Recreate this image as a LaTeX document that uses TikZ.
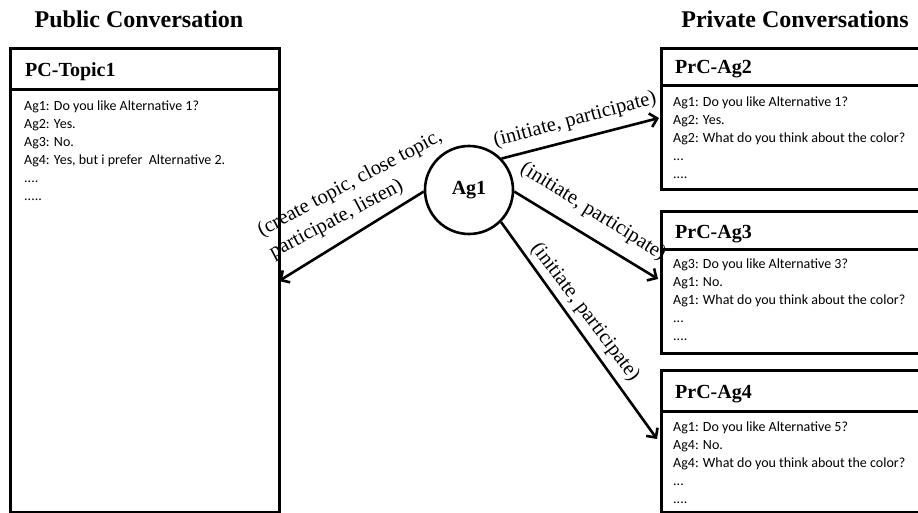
\documentclass[tikz,border=0pt]{standalone}
\usepackage{fontspec}
\setmainfont{Liberation Serif}
\newfontfamily\bodyfont{Carlito}
\usetikzlibrary{arrows.meta,calc}
\tikzset{
  hdr/.style={draw, line width=3.2pt, anchor=north west, inner sep=0},
  bodybox/.style={draw, line width=2.6pt, anchor=north west, inner sep=0},
  hdrtext/.style={anchor=base west, inner sep=0, font=\fontsize{20}{24}\selectfont\bfseries},
  bodytext/.style={anchor=north west, inner sep=0, align=left, font=\bodyfont\fontsize{14}{18}\selectfont},
  title/.style={anchor=base, inner sep=0, font=\fontsize{24}{28}\selectfont\bfseries},
  arr/.style={line width=2.6pt, -{Straight Barb[length=7pt,width=14pt,line width=2.6pt]}},
  lbl/.style={inner sep=0, font=\fontsize{20.5}{25}\selectfont, align=center},
}
\begin{document}
\begin{tikzpicture}[x=1pt,y=-1pt]
\useasboundingbox (0,0) rectangle (918,513);
\clip (0,0) rectangle (918,513);
% titles
\node[title] (tpub) at (139,28) {Public Conversation};
\node[title] (tpriv) at (795,28) {Private Conversations};
% public box
\node[bodybox, minimum width=269pt, minimum height=423pt] (pcb) at (9,88) {};
\node[hdr, minimum width=269pt, minimum height=41pt] (pch) at (9,47) {};
\node[hdrtext] (pct) at (25,77) {PC-Topic1};
\node[bodytext] (pcx) at (24,100.5) {Ag1: Do you like Alternative 1?\\Ag2: Yes.\\Ag3: No.\\Ag4: Yes, but i prefer\ \ Alternative 2.\\....\\.....};
% PrC-Ag2
\node[bodybox, minimum width=270pt, minimum height=104pt] (b2) at (660,84) {};
\node[hdr, minimum width=270pt, minimum height=37pt] (h2) at (660,47) {};
\node[hdrtext] (t2) at (675,74) {PrC-Ag2};
\node[bodytext] (x2) at (673,96.5) {Ag1: Do you like Alternative 1?\\Ag2: Yes.\\Ag2: What do you think about the color?\\...\\....};
% PrC-Ag3
\node[bodybox, minimum width=270pt, minimum height=104pt] (b3) at (660,248) {};
\node[hdr, minimum width=270pt, minimum height=38pt] (h3) at (660,210) {};
\node[hdrtext] (t3) at (675,238) {PrC-Ag3};
\node[bodytext] (x3) at (673,258.5) {Ag3: Do you like Alternative 3?\\Ag1: No.\\Ag1: What do you think about the color?\\...\\....};
% PrC-Ag4
\node[bodybox, minimum width=270pt, minimum height=101pt] (b4) at (660,410) {};
\node[hdr, minimum width=270pt, minimum height=41pt] (h4) at (660,369) {};
\node[hdrtext] (t4) at (675,398) {PrC-Ag4};
\node[bodytext] (x4) at (673,421.5) {Ag1: Do you like Alternative 5?\\Ag4: No.\\Ag4: What do you think about the color?\\...\\....};
% agent
\node[circle, draw, line width=2.6pt, minimum size=88pt, inner sep=0, font=\fontsize{20}{24}\selectfont\bfseries] (ag1) at (469,190) {Ag1};
% arrow ends
\coordinate (pcin) at (279,281);
\coordinate (in2) at (659,118);
\coordinate (in3) at (658,279);
\coordinate (in4) at (657,439);
\draw[arr] (ag1.182) -- (pcin);
\draw[arr] (ag1.44) -- (in2);
\draw[arr] (ag1.-2) -- (in3);
\draw[arr] (ag1.-45) -- (in4);
% labels
\node[lbl, align=left, rotate=28] (l1) at (356,195) {(create topic, close topic,\\participate, listen)};
\node[lbl, rotate=15] (l2) at (575,120) {(initiate, participate)};
\node[lbl, rotate=-32] (l3) at (593,212) {(initiate, participate)};
\node[lbl, rotate=-53] (l4) at (585,312) {(initiate, participate)};
\end{tikzpicture}
\end{document}
